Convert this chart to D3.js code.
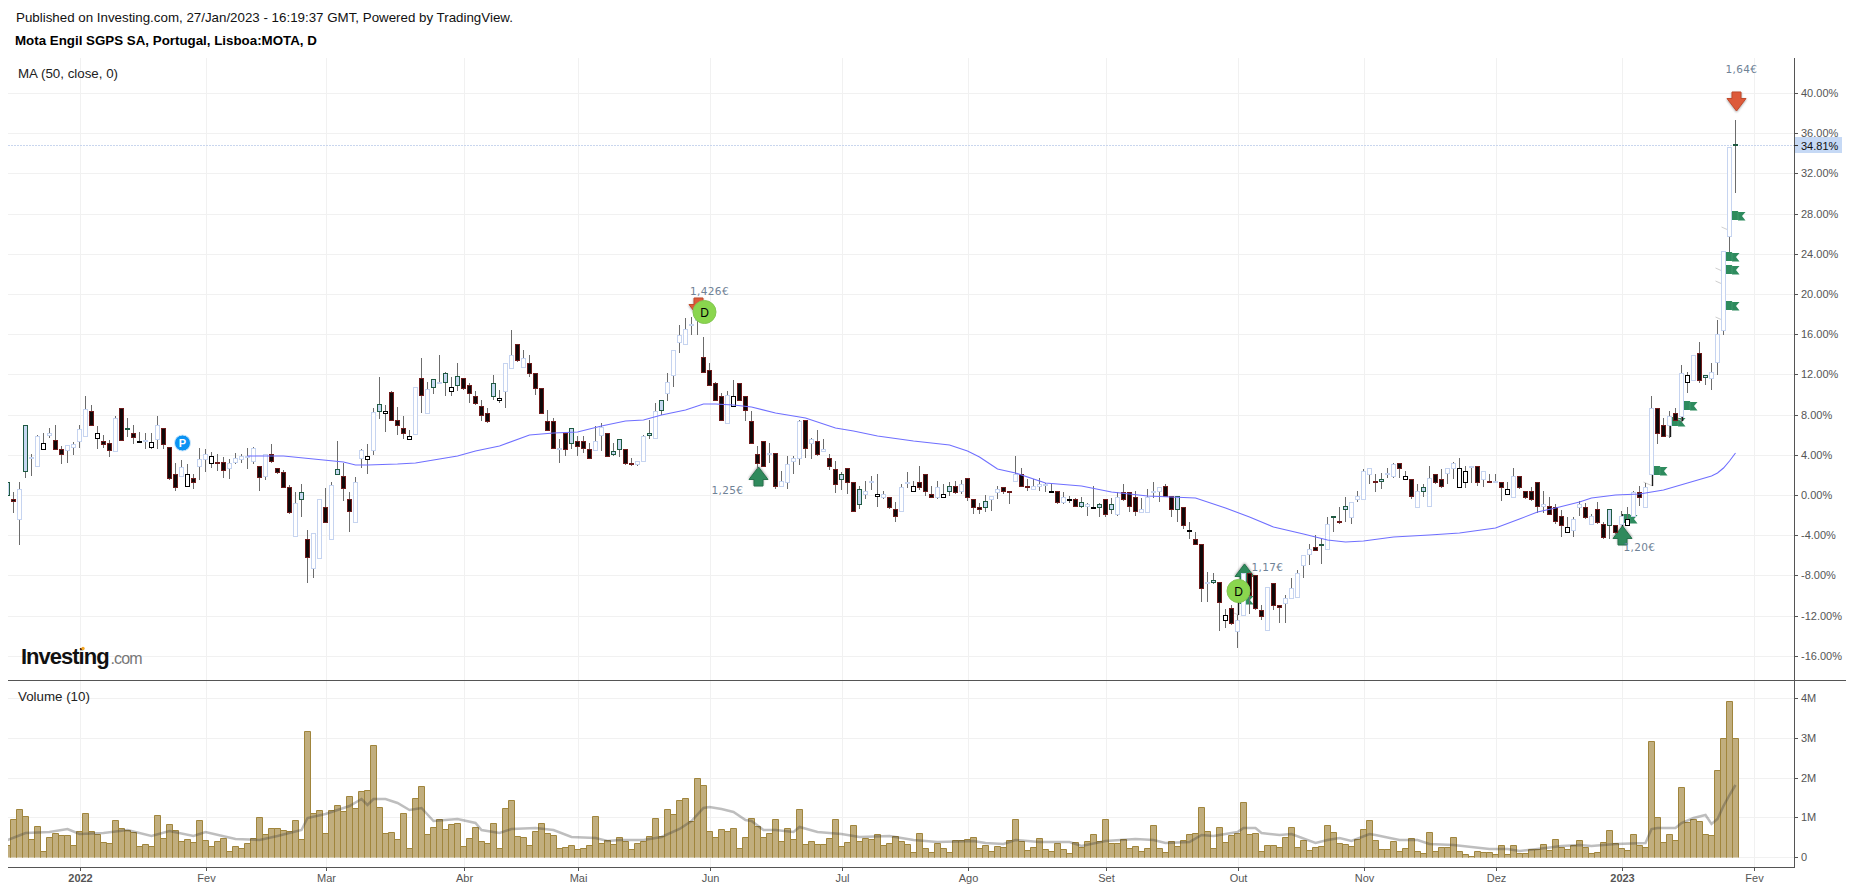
<!DOCTYPE html>
<html>
<head>
<meta charset="utf-8">
<title>Mota Engil SGPS SA</title>
<script src="https://cdn.jsdelivr.net/npm/d3@7"></script>
<style>
html, body { margin: 0; padding: 0; background: #fff; }
svg { display: block; font-family: "Liberation Sans", Arial, sans-serif; }
.tick text { font-family: "Liberation Sans", Arial, sans-serif; }
</style>
</head>
<body>
<div id="chart"></div>
<script>
// bar 0 = first visible session (Dec 2021), values in % and millions of shares
const opens = [
1.29,-0.37,-2.40,6.96,3.64,2.88,4.57,5.93,5.47,4.57,
4.47,4.77,5.37,5.86,8.35,5.66,5.37,5.17,4.37,8.65,
6.66,6.16,5.33,5.37,4.77,5.56,6.66,4.77,2.08,1.88,
0.89,1.68,2.88,3.57,3.18,3.28,3.28,2.68,3.28,3.54,
3.84,3.38,2.88,1.88,4.07,2.68,2.28,0.79,-4.09,0.29,
-4.39,-7.27,-6.28,-1.20,-4.39,2.58,1.88,-0.41,-2.69,3.67,
3.57,4.47,9.05,8.15,10.24,7.46,6.66,5.56,6.06,11.64,
8.15,11.54,11.14,12.13,10.34,11.83,11.64,10.94,9.84,8.85,
8.15,11.14,9.45,10.34,12.63,15.02,12.73,13.13,12.13,10.64,
7.36,7.36,4.57,6.16,6.66,5.37,5.37,4.57,4.50,5.96,
6.16,4.37,5.56,4.57,3.18,3.08,3.38,6.16,5.66,9.45,
10.14,11.93,15.22,15.02,16.97,17.37,13.72,12.43,11.14,9.84,
7.16,8.85,11.14,9.84,7.36,4.07,5.37,4.14,4.17,0.89,
1.29,3.38,3.67,7.46,5.17,5.37,4.37,3.67,2.58,2.08,
2.68,1.29,0.59,0.09,1.29,-0.11,-0.21,-0.21,-1.40,-1.60,
1.25,0.39,1.29,2.08,0.09,-0.21,-0.21,0.89,0.89,0.39,
1.68,-0.41,-1.20,-0.64,-0.40,0.29,0.79,0.39,1.39,2.08,
0.89,0.59,0.89,1.05,0.36,0.39,-0.70,-0.44,-0.40,-0.70,
-1.10,-1.20,-0.90,-0.40,-0.90,-1.90,0.29,0.29,-0.21,-1.70,
-1.70,0.36,0.39,0.89,-0.11,-0.11,-1.20,-3.52,-4.38,-4.88,
-8.73,-8.46,-8.66,-12.44,-11.25,-13.54,-11.95,-7.77,-7.97,-11.45,
-13.44,-8.76,-10.95,-10.75,-10.26,-10.16,-6.97,-5.88,-5.18,-4.85,
-5.38,-2.10,-2.59,-1.10,-2.20,-0.40,-0.40,2.08,1.39,1.59,
2.15,1.88,3.18,1.59,1.59,-1.20,0.79,-1.10,2.08,1.59,
2.18,2.68,0.79,1.29,2.85,2.88,1.58,1.39,1.35,1.29,
0.09,-0.21,1.88,0.39,0.39,1.29,-1.10,-1.10,-1.20,-2.10,
-3.69,-3.49,-1.20,-1.20,-2.89,-1.40,-2.89,-1.40,-2.99,-2.89,
-2.99,-2.10,0.29,-1.20,2.08,8.65,6.96,6.96,8.15,7.85,
11.24,11.44,14.12,11.93,11.64,13.23,16.42,25.77,34.93];

const highs = [
1.29,0.29,1.29,6.96,4.07,6.00,6.16,6.69,6.96,4.84,
4.97,5.27,6.96,9.84,8.95,6.86,5.96,5.47,7.85,8.65,
7.65,6.96,6.26,6.16,6.16,7.85,6.66,4.77,3.18,3.48,
3.08,2.08,4.67,4.57,4.27,4.07,3.77,3.57,4.17,4.07,
4.67,4.77,2.88,4.07,5.07,2.68,2.48,0.99,0.29,1.09,
-3.49,-3.79,-0.41,0.69,1.29,5.37,3.18,0.29,1.78,4.57,
5.07,8.65,11.73,8.95,10.34,8.75,7.85,6.46,10.74,13.63,
11.24,11.54,13.92,12.23,11.73,13.13,11.64,11.14,10.34,9.45,
8.65,11.93,10.47,13.13,16.41,15.02,14.42,13.92,12.13,10.64,
8.45,7.65,5.56,6.16,6.66,5.86,5.86,5.17,6.86,7.16,
6.16,5.17,5.56,4.57,3.67,3.38,5.96,7.49,9.15,9.45,
12.13,14.42,16.91,17.61,17.70,18.27,15.71,13.13,11.24,10.14,
10.34,11.44,11.14,9.84,8.35,4.87,5.37,5.17,4.17,2.38,
3.87,3.87,7.46,7.46,5.66,6.46,5.56,4.07,3.38,2.28,
2.68,1.29,0.85,1.39,1.88,2.08,0.39,-0.21,-0.70,1.09,
2.28,1.39,2.88,2.08,0.89,1.39,1.09,1.29,1.39,1.48,
1.68,-0.41,-0.80,-0.04,-0.11,0.89,0.79,0.39,3.87,2.68,
1.59,1.59,1.69,1.19,1.19,0.39,0.29,-0.11,-0.31,-0.21,
-0.80,0.89,-0.80,-0.40,-0.31,0.29,1.09,0.29,0.39,-0.31,
0.59,1.29,0.79,1.09,-0.11,-0.11,-1.20,-2.69,-3.69,-4.88,
-7.67,-7.77,-8.66,-11.35,-10.95,-11.95,-7.77,-7.67,-7.97,-10.95,
-9.16,-8.76,-10.95,-9.96,-8.27,-7.47,-5.98,-4.88,-3.99,-4.29,
-2.20,-2.10,-1.20,-0.21,-0.70,0.39,2.58,2.68,2.08,2.18,
2.68,3.18,3.18,2.38,1.59,1.09,1.09,2.88,2.08,2.58,
2.68,3.28,3.67,2.88,2.88,2.88,2.38,2.08,2.08,1.29,
1.29,2.68,1.88,0.39,0.79,1.29,0.39,-0.21,-0.90,-1.50,
-2.20,-2.20,-0.60,-0.80,-1.90,-0.70,-2.69,-1.40,-2.99,-1.60,
-1.20,0.39,0.89,1.19,9.84,8.65,7.65,8.35,8.65,12.93,
12.23,13.92,15.22,11.93,13.13,17.44,24.28,34.63,37.31];

const lows = [
-0.04,-1.73,-4.92,1.75,1.95,2.88,4.57,5.73,4.57,3.14,
3.24,4.04,4.74,5.86,6.96,4.64,4.74,3.84,4.37,5.47,
5.86,5.13,5.23,4.67,4.67,4.67,4.64,1.55,0.46,1.88,
0.89,0.66,1.58,2.35,2.75,2.45,1.75,1.65,3.14,3.24,
2.65,3.14,0.46,1.55,3.24,2.18,0.79,-1.80,-4.09,-2.13,
-8.70,-8.20,-6.28,-2.69,-4.39,2.08,-0.47,-3.62,-2.69,2.78,
2.15,4.04,7.62,6.33,7.46,6.06,5.63,5.56,6.06,8.28,
8.15,10.11,11.14,9.91,9.91,10.44,10.54,9.21,9.05,7.46,
7.26,9.55,9.25,8.75,12.63,13.33,12.73,11.80,10.04,8.15,
6.46,4.67,3.28,3.94,4.67,3.94,4.27,3.67,4.47,4.47,
3.87,3.97,3.84,3.08,2.98,2.98,3.38,5.63,5.66,8.02,
9.45,10.84,14.22,15.02,16.01,16.01,12.23,10.94,9.45,7.46,
7.16,8.85,9.45,7.46,5.17,2.68,2.88,3.28,0.69,0.89,
0.66,2.18,3.08,3.77,3.67,3.97,4.37,2.61,0.29,0.59,
0.19,-1.60,-1.30,-0.31,0.59,-1.10,-0.31,-1.30,-2.59,-1.60,
0.79,0.39,0.59,-0.01,-0.21,-0.31,-0.21,-0.01,0.19,0.19,
-0.51,-1.80,-1.80,-1.63,-1.53,-0.31,0.19,-0.80,1.39,0.89,
0.46,0.59,0.46,0.36,0.36,-0.80,-0.80,-0.70,-1.10,-1.20,
-2.03,-1.20,-2.10,-2.10,-1.80,-2.00,-0.50,-1.60,-2.00,-1.70,
-1.70,-0.21,-0.60,-0.11,-2.13,-2.59,-3.29,-4.29,-4.88,-10.55,
-10.55,-8.76,-13.44,-13.14,-12.84,-15.17,-11.95,-11.75,-11.35,-12.35,
-13.44,-11.35,-12.64,-12.64,-10.26,-10.16,-8.17,-6.87,-5.48,-6.77,
-5.38,-3.59,-2.79,-2.59,-2.79,-0.60,-0.40,1.19,0.39,0.69,
1.78,1.78,1.78,1.59,-0.31,-1.20,-0.11,-1.10,1.19,0.79,
1.19,1.69,0.79,0.79,1.29,0.95,0.85,1.29,1.35,-0.54,
0.09,-0.21,0.69,-0.34,-0.50,-1.70,-1.70,-1.90,-2.79,-4.09,
-3.69,-4.12,-2.00,-2.30,-2.89,-2.79,-4.29,-4.29,-3.79,-2.89,
-2.99,-2.10,-1.00,-1.20,2.08,5.17,5.86,5.76,7.46,7.36,
10.24,11.44,11.24,11.04,10.54,12.03,15.98,24.28,30.11];

const closes = [
-0.04,-0.64,0.59,2.35,3.77,5.86,5.17,6.13,4.57,4.04,
4.97,5.07,6.56,8.55,6.96,6.13,5.07,4.47,7.65,5.47,
6.56,5.76,5.37,5.47,5.23,6.96,5.07,1.65,0.79,2.78,
2.08,1.29,3.57,4.07,3.87,3.18,2.48,3.18,3.64,3.87,
3.91,4.67,1.78,4.07,3.38,2.28,0.79,-1.70,-0.80,-0.41,
-6.18,-3.79,-0.41,-2.69,0.99,2.08,0.69,-1.60,1.29,4.47,
3.84,8.25,8.35,8.35,7.46,6.96,6.16,5.86,10.74,9.94,
10.54,10.74,11.24,11.24,10.74,10.94,10.64,10.14,9.15,7.95,
7.36,9.84,9.65,13.13,13.92,13.43,13.63,12.13,10.64,8.15,
6.46,4.67,4.67,4.57,5.17,4.87,4.67,3.67,5.37,6.76,
3.87,4.07,4.57,3.18,3.08,3.38,5.86,5.96,8.35,8.45,
11.24,14.42,15.91,16.51,17.01,17.94,12.23,10.94,9.45,7.46,
9.94,9.84,9.45,8.45,5.17,3.18,2.88,4.20,0.89,1.39,
3.08,3.67,7.36,4.67,5.56,4.07,4.57,2.88,1.09,1.58,
1.29,-1.60,-0.90,0.39,1.39,0.09,0.09,-1.20,-2.10,0.79,
1.29,0.89,0.79,0.39,-0.21,0.79,0.09,0.39,0.29,1.09,
-0.21,-1.20,-1.40,-1.20,-0.11,0.59,0.39,0.29,2.08,0.89,
0.76,0.89,1.09,1.09,0.39,-0.70,-0.21,-0.40,-1.10,-1.10,
-0.90,-1.17,-1.20,-1.90,-1.40,-0.21,-0.40,-1.10,-1.60,-1.40,
-0.21,0.39,0.79,-0.11,-1.40,-1.40,-2.99,-3.49,-4.88,-9.26,
-8.70,-8.66,-10.65,-11.95,-12.74,-12.44,-7.77,-9.99,-11.25,-12.05,
-9.16,-10.95,-11.15,-10.26,-9.26,-7.77,-5.98,-5.38,-5.48,-4.95,
-2.89,-2.20,-2.69,-1.40,-0.70,-0.11,2.38,2.68,1.29,1.39,
2.18,3.08,2.68,1.88,-0.11,0.39,0.39,1.69,1.29,0.89,
2.68,3.18,2.68,2.38,2.88,1.29,2.38,1.29,1.39,0.79,
0.56,1.88,0.79,-0.21,-0.41,-1.10,-0.90,-1.90,-2.59,-2.99,
-3.19,-2.40,-0.90,-2.20,-2.10,-2.69,-4.19,-2.99,-3.69,-2.10,
-2.40,0.29,-0.21,0.79,8.65,6.16,5.86,7.85,7.46,12.13,
11.93,13.92,11.44,11.73,12.23,16.01,24.28,34.63,34.83];

// did the close beat the previous close? 1 yes, 0 no
const upOnDay = ("1011110100" + "1111000010" + "1001010001" + "0011000111"
  + "1101000011" + "0110110011" + "0110000010" + "1111010000"
  + "0101101000" + "0010100011" + "0110011111" + "1111110000"
  + "1000000101" + "1110101001" + "0011101001" + "1000010101"
  + "0001110010" + "0111001001" + "1010110001" + "1110010000"
  + "1100011000" + "1001111101" + "1101111101" + "1100011100"
  + "1100101010" + "0100001000" + "0110100101" + "0101100101"
  + "010111111").split("").map(Number);

const volumes = [
0.31,0.96,1.21,1.04,0.46,0.79,0.16,0.51,0.61,0.56,
0.56,0.31,0.66,1.11,0.66,0.59,0.38,0.36,0.94,0.74,
0.69,0.64,0.28,0.33,0.28,1.06,0.49,0.84,0.69,0.41,
0.46,0.38,0.94,0.44,0.28,0.41,0.49,0.16,0.28,0.23,
0.36,0.49,1.01,0.59,0.74,0.74,0.69,0.66,0.94,0.46,
3.17,1.11,1.19,0.61,1.19,1.31,1.16,1.54,1.24,1.67,
1.69,2.82,1.26,0.61,0.64,0.46,1.11,0.23,1.49,1.79,
0.59,0.76,0.96,0.71,0.84,0.86,0.28,0.49,0.76,0.41,
0.36,0.86,0.23,1.24,1.44,0.54,0.51,0.31,0.66,0.86,
0.61,0.56,0.23,0.26,0.31,0.21,0.23,0.31,1.04,0.36,
0.44,0.33,0.51,0.41,0.21,0.36,0.41,0.54,0.99,0.54,
1.21,1.09,1.44,1.49,0.90,1.99,1.82,0.66,0.51,0.71,
0.66,0.74,0.23,0.51,0.99,0.79,0.51,0.61,0.96,0.41,
0.74,0.46,1.21,0.33,0.41,0.33,0.33,0.49,0.96,0.28,
0.38,0.81,0.41,0.49,0.46,0.59,0.31,0.36,0.54,0.41,
0.33,0.13,0.61,0.23,0.13,0.36,0.23,0.13,0.44,0.44,
0.46,0.51,0.23,0.31,0.16,0.28,0.26,0.44,0.96,0.41,
0.18,0.26,0.49,0.21,0.16,0.36,0.21,0.11,0.38,0.26,
0.41,0.59,0.41,0.96,0.36,0.36,0.46,0.23,0.28,0.16,
0.23,0.81,0.23,0.13,0.41,0.28,0.44,0.59,0.61,1.26,
0.66,0.23,0.76,0.38,0.56,0.61,1.39,0.59,0.61,0.16,
0.31,0.31,0.26,0.51,0.76,0.26,0.44,0.18,0.26,0.28,
0.81,0.64,0.36,0.33,0.28,0.46,0.71,0.94,0.44,0.21,
0.21,0.41,0.16,0.23,0.49,0.16,0.11,0.64,0.16,0.26,
0.26,0.51,0.16,0.08,0.03,0.16,0.13,0.13,0.08,0.31,
0.08,0.31,0.11,0.11,0.21,0.21,0.33,0.18,0.46,0.26,
0.21,0.31,0.44,0.26,0.11,0.13,0.38,0.69,0.36,0.23,
0.18,0.59,0.31,0.26,2.92,1.01,0.38,0.59,0.44,1.77,
0.89,0.96,0.91,0.59,0.56,2.19,3.00,3.92,3.00];

// moving averages, read at the bars where the line bends
const maBars = [40,46,51,56,58,60,65,68,72,75,78,82,87,91,95,99,103,106,109,113,116,118,121,124,128,133,138,141,145,151,157,160,162,165,168,173,179,184,190,198,203,207,211,216,220,223,226,231,237,242,248,252,255,258,262,264,268,272,274,276,280,284,285,286,287,288];
const maValues = [3.91,3.87,3.57,3.28,2.98,2.98,3.08,3.18,3.54,3.87,4.37,4.87,5.93,6.16,6.29,6.82,7.36,7.42,7.92,8.48,9.01,9.08,8.95,8.75,8.12,7.69,6.63,6.33,5.90,5.37,4.97,4.40,3.77,2.61,2.18,1.19,0.89,0.26,-0.14,-0.31,-1.30,-2.20,-3.19,-3.92,-4.45,-4.72,-4.58,-4.22,-3.99,-3.79,-3.29,-2.40,-1.67,-1.33,-0.67,-0.31,-0.04,0.06,0.29,0.52,1.19,1.92,2.18,2.68,3.41,4.17];
const volMaBars = [0,3,7,10,12,16,20,24,27,31,33,38,42,45,49,50,53,57,59,60,61,63,65,67,69,71,75,78,79,82,84,88,91,94,98,100,102,106,109,112,114,116,117,119,121,123,124,126,128,131,132,135,139,142,147,151,155,161,163,166,168,172,177,179,183,188,191,193,197,199,201,205,206,208,209,212,214,218,220,222,224,227,228,232,235,237,241,244,247,250,252,255,259,262,264,268,273,274,275,278,279,281,283,284,285,286,287,288];
const volMaValues = [0.42,0.61,0.64,0.71,0.59,0.61,0.69,0.54,0.66,0.54,0.64,0.46,0.44,0.54,0.69,0.99,1.07,1.28,1.45,1.30,1.47,1.47,1.35,1.19,1.24,0.90,0.95,0.86,0.69,0.61,0.71,0.74,0.69,0.50,0.49,0.41,0.44,0.44,0.51,0.71,0.90,1.23,1.25,1.21,1.13,0.93,0.91,0.67,0.68,0.64,0.76,0.62,0.59,0.50,0.54,0.44,0.37,0.39,0.35,0.33,0.44,0.38,0.38,0.28,0.41,0.46,0.44,0.36,0.38,0.56,0.53,0.64,0.74,0.74,0.61,0.55,0.59,0.36,0.44,0.47,0.41,0.57,0.55,0.44,0.44,0.33,0.31,0.26,0.21,0.20,0.16,0.20,0.28,0.31,0.28,0.33,0.35,0.71,0.73,0.72,0.86,0.99,1.06,0.82,0.95,1.28,1.57,1.81];

const timeTickBars = [12,33,53,76,95,117,139,160,183,205,226,248,269,291];
const timeTickLabels = ["2022","Fev","Mar","Abr","Mai","Jun","Jul","Ago","Set","Out","Nov","Dez","2023","Fev"];
const priceTicks = [-16,-12,-8,-4,0,4,8,12,16,20,24,28,32,36,40];
const volumeTicks = [0,1,2,3,4];
const lastChange = 34.81;

// events on the chart: bar and level
const flagBars = [205,269,274,277,279,286,286,286,287];
const flagLevels = [-11.91,-3.85,0.86,5.77,7.36,17.27,20.86,22.15,26.25];
const buyBars = [125,206,269];
const buyLevels = [2.75,-6.84,-3.12];
const sellBars = [115,288];
const sellLevels = [17.74,38.25];
const dividendBars = [116,205];
const dividendLevels = [18.21,-9.55];
const splitBar = 29, splitLevel = 5.17;
const quoteLabels = ["1,426€","1,25€","1,17€","1,20€","1,64€"];
const quoteBars = [117,120,210,272,289];
const quoteLevels = [19.9,0.1,-7.53,-5.6,41.95];

const width = 1853, height = 891;
const plotLeft = 8, plotRight = 1794, plotTop = 58, paneGap = 680, plotBottom = 867;

const svg = d3.select("#chart").append("svg")
    .attr("width", width)
    .attr("height", height);

svg.append("defs").append("clipPath").attr("id", "plot")
    .append("rect")
    .attr("x", plotLeft).attr("y", plotTop)
    .attr("width", plotRight - plotLeft).attr("height", plotBottom - plotTop);

const x = d3.scaleLinear().domain([0, 288]).range([7.5, 1735.5]);
const xTick = d3.scaleLinear().domain([0, 288]).range([8, 1736]);
const y = d3.scaleLinear().domain([0, 40]).rangeRound([495, 93]);
const yVol = d3.scaleLinear().domain([0, 4]).rangeRound([857, 698]);

// grid
const grid = svg.append("g").attr("stroke", "#f1f1f1").attr("stroke-width", 1);
grid.append("g").selectAll("line").data(timeTickBars).join("line")
    .attr("x1", d => xTick(d) + .5).attr("x2", d => xTick(d) + .5)
    .attr("y1", plotTop).attr("y2", plotBottom);
grid.append("g").selectAll("line").data(priceTicks).join("line")
    .attr("x1", plotLeft).attr("x2", plotRight)
    .attr("y1", d => y(d) + .5).attr("y2", d => y(d) + .5);
grid.append("g").selectAll("line").data(volumeTicks).join("line")
    .attr("x1", plotLeft).attr("x2", plotRight)
    .attr("y1", d => yVol(d) + .5).attr("y2", d => yVol(d) + .5);

// last price line
svg.append("line")
    .attr("x1", plotLeft).attr("x2", plotRight)
    .attr("y1", y(lastChange) + .5).attr("y2", y(lastChange) + .5)
    .attr("stroke", "#c9d6ee").attr("stroke-dasharray", "2,1");

const plot = svg.append("g").attr("clip-path", "url(#plot)");

// flags and arrows sit behind the candles
const flagGreen = "#2e8b5e";
const flags = plot.append("g").selectAll("g").data(flagBars).join("g")
    .attr("transform", (d, i) => `translate(${x(d) + 1},${y(flagLevels[i])})`);
flags.append("line")
    .attr("x1", -9).attr("y1", -4).attr("x2", 0).attr("y2", 0)
    .attr("stroke", "#cfcfcf");
flags.append("path")
    .attr("d", "M1,-20H7.5V-19H15L11.5,-15L15,-10.5H7.5V-11H1Z")
    .attr("fill", flagGreen);
flags.append("line")
    .attr("x1", 7.5).attr("x2", 7.5).attr("y1", -19.5).attr("y2", -11)
    .attr("stroke", "#4aa577").attr("stroke-width", .6);
flags.append("line")
    .attr("x1", 0).attr("x2", 0).attr("y1", -20).attr("y2", 0)
    .attr("stroke", "#1c1c1c").attr("stroke-width", 1.4);

const arrowShape = "M0,0L-9.5,-12.5H-4.5V-19H4.5V-12.5H9.5Z";
plot.append("g").selectAll("path").data(buyBars).join("path")
    .attr("d", arrowShape)
    .attr("transform", (d, i) => `translate(${x(d) + 1},${y(buyLevels[i])}) scale(1,-1)`)
    .attr("fill", "#2f8a5c").attr("stroke", "#26734c")
    .style("filter", "drop-shadow(0 1px 1px rgba(0,0,0,.35))");
plot.append("g").selectAll("path").data(sellBars).join("path")
    .attr("d", arrowShape)
    .attr("transform", (d, i) => `translate(${x(d) + 1},${y(sellLevels[i])})`)
    .attr("fill", "#dd5a3a").attr("stroke", "#c24a2c")
    .style("filter", "drop-shadow(0 1px 1px rgba(0,0,0,.35))");

// volume
const barColor = "#c1ae7e", barEdge = "#a0853c";
plot.append("g").selectAll("path").data(volumes).join("path")
    .attr("d", (d, i) => `M${x(i) - 3},${yVol(0) + .5}V${yVol(d) + .5}H${x(i) + 3}V${yVol(0) + .5}`)
    .attr("fill", barColor)
    .attr("stroke", barEdge)
    .attr("stroke-width", 1);

const volLine = d3.line().x(d => x(d)).y((d, i) => yVol(volMaValues[i]));
plot.append("path")
    .attr("d", volLine(volMaBars))
    .attr("fill", "none")
    .attr("stroke", "#3a3a3a").attr("stroke-opacity", .33).attr("stroke-width", 2.5);

// candles
const candles = plot.append("g").selectAll("g").data(opens).join("g");
candles.append("line")
    .attr("x1", (d, i) => x(i)).attr("x2", (d, i) => x(i))
    .attr("y1", (d, i) => y(highs[i])).attr("y2", (d, i) => y(lows[i]) + 1)
    .attr("stroke", "#6c6c6c");
candles.append("rect")
    .attr("x", (d, i) => x(i) - 2)
    .attr("width", 4)
    .attr("y", (d, i) => Math.min(y(d), y(closes[i])) + .5)
    .attr("height", (d, i) => Math.max(Math.abs(y(d) - y(closes[i])), 1))
    .attr("fill", (d, i) => {
        const hollow = closes[i] >= d;
        if (hollow) return "#fff";
        return upOnDay[i] ? "#c5d8f1" : "#0d0909";
    })
    .attr("stroke", (d, i) => {
        const hollow = closes[i] >= d;
        if (hollow) return upOnDay[i] ? "#c6d4f0" : "#000";
        return upOnDay[i] ? "#1f5a42" : "#6e1b1b";
    });

// moving average
const maLine = d3.line().x(d => x(d)).y((d, i) => y(maValues[i]));
plot.append("path")
    .attr("d", maLine(maBars))
    .attr("fill", "none")
    .attr("stroke", "#6f6fff").attr("stroke-width", 1.1);

// dividend and split badges
const badge = plot.append("g").attr("text-anchor", "middle");
const dBadges = badge.append("g").selectAll("g").data(dividendBars).join("g")
    .attr("transform", (d, i) => `translate(${x(d) + 1},${y(dividendLevels[i])})`);
dBadges.append("circle").attr("r", 11.5)
    .attr("fill", "#8ad64e").attr("stroke", "#83c752");
dBadges.append("text").attr("y", 4.5)
    .attr("font-size", 12).attr("fill", "#000")
    .text("D");
const pBadge = badge.append("g")
    .attr("transform", `translate(${x(splitBar) + 1},${y(splitLevel)})`);
pBadge.append("circle").attr("r", 8)
    .attr("fill", "#0b93f3").attr("stroke", "#cfe8fb");
pBadge.append("text").attr("y", 4)
    .attr("font-size", 11).attr("font-weight", "bold").attr("fill", "#fff")
    .text("P");

// quote labels next to the arrows
svg.append("g").selectAll("text").data(quoteLabels).join("text")
    .attr("x", (d, i) => x(quoteBars[i]))
    .attr("y", (d, i) => y(quoteLevels[i]))
    .attr("text-anchor", "middle")
    .style("font-family", "'DejaVu Sans', Verdana, sans-serif")
    .attr("font-size", 10.5)
    .attr("letter-spacing", .35)
    .attr("fill", "#6f8296")
    .text(d => d);

// frame
const frame = svg.append("g").attr("stroke", "#555").attr("stroke-width", 1);
frame.append("line").attr("x1", plotRight + .5).attr("x2", plotRight + .5).attr("y1", plotTop).attr("y2", plotBottom + 1);
frame.append("line").attr("x1", plotLeft).attr("x2", 1846).attr("y1", paneGap + .5).attr("y2", paneGap + .5);
frame.append("line").attr("x1", plotLeft).attr("x2", plotRight).attr("y1", plotBottom + .5).attr("y2", plotBottom + .5);

// axes
const priceAxis = svg.append("g")
    .attr("transform", `translate(${plotRight},0)`)
    .call(d3.axisRight(y).tickValues(priceTicks).tickSize(4).tickPadding(3)
        .tickFormat(d => d.toFixed(2) + "%"));
const volAxis = svg.append("g")
    .attr("transform", `translate(${plotRight},0)`)
    .call(d3.axisRight(yVol).tickValues(volumeTicks).tickSize(4).tickPadding(3)
        .tickFormat(d => d === 0 ? "0" : d + "M"));
const timeAxis = svg.append("g")
    .attr("transform", `translate(0,${plotBottom})`)
    .call(d3.axisBottom(xTick).tickValues(timeTickBars).tickSize(4).tickPadding(3)
        .tickFormat((d, i) => timeTickLabels[i]));
[priceAxis, volAxis, timeAxis].forEach(a => {
    a.select(".domain").remove();
    a.selectAll(".tick line").attr("stroke", "#555");
    a.selectAll(".tick text").attr("fill", "#555").attr("font-size", 11);
});
timeAxis.selectAll(".tick text")
    .attr("font-weight", d => (d === 12 || d === 269) ? "bold" : null);

// last value tag on the price scale
const tag = svg.append("g");
tag.append("rect")
    .attr("x", plotRight + 1).attr("width", 47)
    .attr("y", y(lastChange) - 8).attr("height", 16)
    .attr("fill", "#c6d9f5");
tag.append("line")
    .attr("x1", plotRight).attr("x2", plotRight + 4)
    .attr("y1", y(lastChange) + .5).attr("y2", y(lastChange) + .5)
    .attr("stroke", "#333");
tag.append("text")
    .attr("x", plotRight + 7).attr("y", y(lastChange) + 4.5)
    .attr("font-size", 11).attr("fill", "#111")
    .text(lastChange.toFixed(2) + "%");

// titles
svg.append("text").attr("x", 16).attr("y", 22)
    .attr("font-size", 13.33).attr("fill", "#111")
    .text("Published on Investing.com, 27/Jan/2023 - 16:19:37 GMT, Powered by TradingView.");
svg.append("text").attr("x", 15).attr("y", 45)
    .attr("font-size", 13.33).attr("font-weight", "bold").attr("fill", "#000")
    .text("Mota Engil SGPS SA, Portugal, Lisboa:MOTA, D");
svg.append("text").attr("x", 18).attr("y", 78)
    .attr("font-size", 13.33).attr("fill", "#222")
    .text("MA (50, close, 0)");
svg.append("text").attr("x", 18).attr("y", 701)
    .attr("font-size", 13.33).attr("fill", "#222")
    .text("Volume (10)");

// logo
const logo = svg.append("g");
logo.append("text").attr("x", 21).attr("y", 664)
    .attr("font-size", 22).attr("font-weight", "bold").attr("fill", "#111")
    .attr("letter-spacing", -1)
    .text("Investing");
logo.append("text").attr("x", 110.5).attr("y", 664)
    .attr("font-size", 16).attr("fill", "#777")
    .attr("letter-spacing", -.9)
    .text(".com");
logo.append("circle").attr("cx", 83).attr("cy", 648.5).attr("r", 1.7).attr("fill", "#f5a623");
</script>
</body>
</html>
